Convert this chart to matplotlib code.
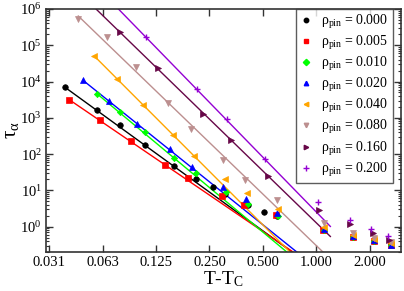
import numpy as np
import matplotlib
matplotlib.use("Agg")
import matplotlib.pyplot as plt
from matplotlib.ticker import FixedLocator, FixedFormatter, LogFormatterSciNotation, NullLocator, NullFormatter

plt.rcParams['font.family'] = ['Liberation Serif', 'DejaVu Serif']
plt.rcParams['mathtext.fontset'] = 'custom'
plt.rcParams['mathtext.rm'] = 'Liberation Serif'
plt.rcParams['mathtext.it'] = 'Liberation Serif:italic'
plt.rcParams['mathtext.bf'] = 'Liberation Serif:bold'

# ---------------- data ----------------
rho_labels = ["0.000", "0.005", "0.010", "0.020", "0.040", "0.080", "0.160", "0.200"]
colors = ["#000000", "#ff0000", "#00ff00", "#0000ff", "#ffa500", "#bc8f8f", "#670748", "#9400d3"]
markers = ["o", "s", "D", "^", "<", "v", ">", "+"]

x_000 = [0.0384, 0.0584, 0.0784, 0.1084, 0.1585, 0.210, 0.261, 0.306, 0.414, 0.509, 0.600, 1.105, 1.616, 2.114, 2.635]
y_000 = [6930, 1690, 632, 178, 47.8, 21.2, 12.0, 7.92, 3.87, 2.48, 2.02, 0.806, 0.527, 0.409, 0.311]

x_005 = [0.0406, 0.0604, 0.0904, 0.1405, 0.190, 0.293, 0.393, 0.593, 1.095, 1.60, 2.10, 2.62]
y_005 = [3155, 886, 233, 49.9, 21.5, 6.98, 3.87, 2.10, 0.79, 0.52, 0.40, 0.305]

x_010 = [0.0581, 0.0784, 0.1078, 0.158, 0.210, 0.310, 0.414, 0.608, 1.11, 1.62, 2.12, 2.64]
y_010 = [4615, 1417, 413, 76.4, 29.5, 8.83, 4.12, 1.96, 0.80, 0.53, 0.41, 0.31]

x_020 = [0.0485, 0.0682, 0.0983, 0.150, 0.199, 0.299, 0.402, 0.603, 1.10, 1.61, 2.11, 2.63]
y_020 = [10810, 2999, 687, 135, 44.8, 12.0, 5.66, 2.42, 0.85, 0.55, 0.42, 0.32]

x_040 = [0.0561, 0.0757, 0.106, 0.1565, 0.2047, 0.306, 0.405, 0.608, 1.11, 1.62, 2.11, 2.64]
y_040 = [50570, 11510, 2296, 335, 90.1, 20.1, 8.28, 3.16, 0.975, 0.605, 0.455, 0.353]

x_080 = [0.0456, 0.0659, 0.0958, 0.1466, 0.197, 0.297, 0.399, 0.600, 1.11, 1.62, 2.11, 2.64]
y_080 = [519000, 172000, 25130, 2640, 491, 68.6, 19.9, 5.31, 1.30, 0.675, 0.50, 0.388]

x_160 = [0.0784, 0.1288, 0.231, 0.331, 0.535, 1.04, 1.54, 2.08, 2.58]
y_160 = [227500, 23600, 1272, 244, 25.6, 2.81, 1.18, 0.679, 0.427]

x_200 = [0.1094, 0.212, 0.313, 0.514, 1.022, 1.55, 2.025, 2.55]
y_200 = [168800, 6220, 926, 71.7, 4.92, 1.55, 0.842, 0.551]

# power-law fits  tau = A * (T-Tc)^(-gamma)  (log10 A, gamma, start of line)
fit_logA = [-1.185, -1.135, -1.378, -1.131, -1.426, -0.523, 0.105, 0.403]
fit_gamma = [3.55, 3.33, 4.08, 3.93, 4.90, 4.72, 4.75, 5.02]
fit_start = [0.0384, 0.0406, 0.0581, 0.0485, 0.0561, 0.0456, 0.05, 0.07]

xs = [x_000, x_005, x_010, x_020, x_040, x_080, x_160, x_200]
ys = [y_000, y_005, y_010, y_020, y_040, y_080, y_160, y_200]

xticks = [0.03125, 0.0625, 0.125, 0.25, 0.5, 1.0, 2.0]
xticklabels = ["0.031", "0.063", "0.125", "0.250", "0.500", "1.000", "2.000"]
yticks = [1e0, 1e1, 1e2, 1e3, 1e4, 1e5, 1e6]

# ---------------- figure ----------------
fig = plt.figure(figsize=(4.04, 2.91), dpi=100)
ax = fig.add_axes([46/404, 39/291, 355/404, 243/291])

for i in range(len(rho_labels)):
    xl = np.logspace(np.log10(fit_start[i]), np.log10(1.2), 100)
    yl = 10**fit_logA[i] * xl**(-fit_gamma[i])
    ax.plot(xl, yl, '-', color=colors[i], lw=1.0, zorder=2)
    if markers[i] == '+':
        ax.plot(xs[i], ys[i], linestyle='none', marker='+', color=colors[i], ms=4.8, mew=1.0, zorder=3)
    else:
        ms = 4.0 if markers[i] != 'D' else 3.2
        ax.plot(xs[i], ys[i], linestyle='none', marker=markers[i], color=colors[i], ms=ms,
                mec=colors[i], mew=0.5, zorder=3)
    ax.plot([], [], linestyle='none', marker=markers[i], color=colors[i],
            ms=(3.2 if markers[i] != '+' else 5), mew=1.0,
            label=r'$\mathrm{\rho_{pin}}$ = ' + rho_labels[i])

ax.set_xscale('log', base=2)
ax.set_yscale('log')
ax.set_xlim(0.03, 3.0)
ax.set_ylim(0.2, 1e6)

ax.xaxis.set_major_locator(FixedLocator(xticks))
ax.xaxis.set_major_formatter(FixedFormatter(xticklabels))
ax.xaxis.set_minor_locator(NullLocator())
yminor = [m * 10.0**e for e in range(-1, 6) for m in range(2, 10) if 0.2 <= m * 10.0**e <= 1e6]
ax.yaxis.set_major_locator(FixedLocator(yticks))
ax.yaxis.set_major_formatter(LogFormatterSciNotation(base=10))
ax.yaxis.set_minor_locator(FixedLocator(yminor))
ax.yaxis.set_minor_formatter(NullFormatter())

ax.tick_params(which='both', direction='in', top=True, right=True, labelsize=10.5, color='#333333')
ax.tick_params(which='major', length=5, width=1, pad=3)
ax.tick_params(which='minor', length=2.5, width=0.8)
for s in ax.spines.values():
    s.set_linewidth(1.2)
    s.set_color('#333333')

ax.set_xlabel(r'T-T$_{\mathrm{C}}$', fontsize=14, labelpad=0)
ax.set_ylabel(r'$\mathrm{\tau}_{\mathrm{\alpha}}$', fontsize=15, labelpad=-1)

leg = ax.legend(loc='upper right', fontsize=10, frameon=True, fancybox=False,
                borderaxespad=0.0, handlelength=0.8, handletextpad=0.7,
                labelspacing=0.22, borderpad=0.3, bbox_to_anchor=(0.977, 1.0))
leg.get_frame().set_edgecolor('#333333')
leg.get_frame().set_linewidth(1.0)

fig.savefig('out.png', dpi=100)
